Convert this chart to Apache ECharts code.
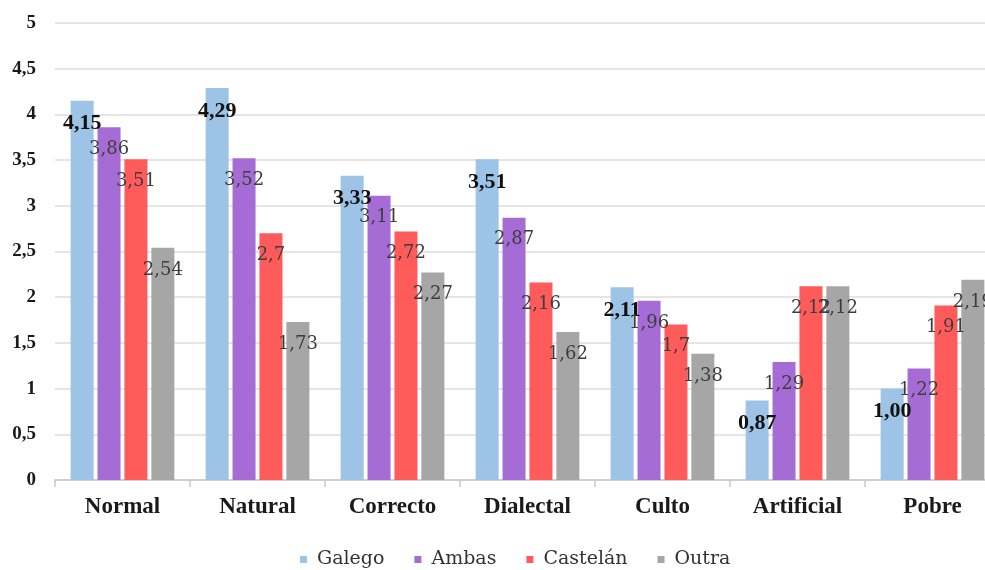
<!DOCTYPE html>
<html>
<head>
<meta charset="utf-8">
<script src="https://cdn.jsdelivr.net/npm/echarts@6/dist/echarts.min.js"></script>
<style>
  html, body { margin: 0; padding: 0; background: #fff; overflow: hidden; }
  #chart { width: 1002px; height: 570px; }
</style>
</head>
<body>
<div id="chart"></div>
<script>
// Categories and mean scores per home language group
const categories = ['Normal', 'Natural', 'Correcto', 'Dialectal', 'Culto', 'Artificial', 'Pobre'];
const seriesNames = ['Galego', 'Ambas', 'Castelán', 'Outra'];
const galego   = [4.15, 4.29, 3.33, 3.51, 2.11, 0.87, 1.00];
const ambas    = [3.86, 3.52, 3.11, 2.87, 1.96, 1.29, 1.22];
const castelan = [3.51, 2.7, 2.72, 2.16, 1.7, 2.12, 1.91];
const outra    = [2.54, 1.73, 2.27, 1.62, 1.38, 2.12, 2.19];
const yTicks = { min: 0, max: 5, step: 0.5 };

const colors = ['#9DC3E6', '#A66CD5', '#FF5B5B', '#A6A6A6'];
const serifBold = 'Liberation Serif';
const serifRegular = 'DejaVu Serif';
const comma = v => String(v).replace('.', ',');

function makeSeries(name, data, color, bold) {
  return {
    name: name,
    type: 'bar',
    data: data,
    barWidth: 23,
    barGap: '17%',
    itemStyle: { color: color },
    label: {
      show: true,
      position: 'insideTop',
      distance: bold ? 12 : 13,
      fontFamily: bold ? serifBold : serifRegular,
      fontSize: bold ? 22 : 18,
      fontWeight: bold ? 'bold' : 'normal',
      color: bold ? '#111111' : '#3d3d3d',
      formatter: p => bold ? comma(p.value.toFixed(2)) : comma(p.value)
    }
  };
}

const chart = echarts.init(document.getElementById('chart'));
chart.setOption({
  animation: false,
  backgroundColor: '#ffffff',
  grid: { left: 55, top: 23, right: 2, bottom: 90 },
  legend: {
    left: 295,
    top: 545,
    itemWidth: 7,
    itemHeight: 7,
    itemGap: 30,
    icon: 'rect',
    textStyle: {
      fontFamily: serifRegular,
      fontSize: 19,
      color: '#333333',
      padding: [0, 0, 0, 5]
    },
    data: seriesNames
  },
  xAxis: {
    type: 'category',
    data: categories,
    axisLine: { lineStyle: { color: '#c8c8c8', width: 1.5 } },
    axisTick: { show: true, length: 7, lineStyle: { color: '#c8c8c8', width: 1.5 } },
    axisLabel: { margin: 16, fontFamily: serifBold, fontSize: 23, fontWeight: 'bold', color: '#1a1a1a' }
  },
  yAxis: {
    type: 'value',
    min: yTicks.min,
    max: yTicks.max,
    interval: yTicks.step,
    axisLine: { show: false },
    axisTick: { show: false },
    splitLine: { lineStyle: { color: '#dcdcdc', width: 1.5 } },
    axisLabel: {
      margin: 19,
      fontFamily: serifBold,
      fontSize: 19,
      fontWeight: 'bold',
      color: '#1a1a1a',
      formatter: v => comma(v)
    }
  },
  series: [
    makeSeries(seriesNames[0], galego, colors[0], true),
    makeSeries(seriesNames[1], ambas, colors[1], false),
    makeSeries(seriesNames[2], castelan, colors[2], false),
    makeSeries(seriesNames[3], outra, colors[3], false)
  ]
});
</script>
</body>
</html>
